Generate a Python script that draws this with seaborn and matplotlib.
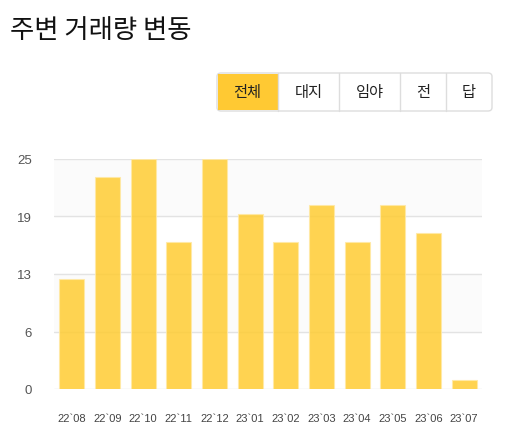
import matplotlib
matplotlib.use("Agg")
import matplotlib.pyplot as plt
import seaborn as sns
import pandas as pd
from matplotlib.patches import FancyBboxPatch, Rectangle

# data
months = ["22`08", "22`09", "22`10", "22`11", "22`12", "23`01",
          "23`02", "23`03", "23`04", "23`05", "23`06", "23`07"]
volumes = [12, 23, 25, 16, 25, 19, 16, 20, 16, 20, 17, 1]
tick_vals = [0, 6.25, 12.5, 18.75, 25]
tick_labels = ["0", "6", "13", "19", "25"]
buttons = ["전체", "대지", "임야", "전", "답"]

df = pd.DataFrame({"month": months, "volume": volumes})

sns.set_style("white")
plt.rcParams["font.family"] = ["Noto Sans CJK KR", "DejaVu Sans"]

W, H = 508, 439
fig = plt.figure(figsize=(W / 100, H / 100), dpi=100)

ax = fig.add_axes([54 / W, (H - 390) / H, 428 / W, 230 / H])
ax.set_facecolor("white")
for lo, hi in [(18.75, 25), (6.25, 12.5)]:
    ax.axhspan(lo, hi, color="#fbfbfb", zorder=0)
for v in tick_vals:
    ax.axhline(v, color="#e3e3e3", lw=1, zorder=1)

sns.barplot(data=df, x="month", y="volume", color="#ffcc33", alpha=0.85,
            width=0.7, edgecolor="#ffe9a6", linewidth=0.8, saturation=1,
            ax=ax, zorder=2)

ax.set_ylim(0, 25)
ax.set_xlim(-0.5, len(months) - 0.5)
ax.set_yticks(tick_vals)
ax.set_yticklabels(tick_labels, fontsize=9.5, color="#555555",
                   family="Liberation Sans")
for t in ax.get_xticklabels():
    t.set_family("Liberation Sans")
ax.tick_params(axis="x", labelsize=8, colors="#444444", pad=17, length=0)
ax.tick_params(axis="y", length=0, pad=16)
ax.set_xlabel("")
ax.set_ylabel("")
for s in ax.spines.values():
    s.set_visible(False)

# title
fig.text(10 / W, 1 - 31 / H, "주변 거래량 변동", fontsize=19, color="#111111",
         va="center", ha="left")

# segmented buttons
x0, x1, y0, y1 = 217, 492, 74, 112
edges = [217, 278, 339, 400, 446, 492]
bg = FancyBboxPatch((x0 / W, 1 - y1 / H), (x1 - x0) / W, (y1 - y0) / H,
                    boxstyle="round,pad=0,rounding_size=0.008",
                    transform=fig.transFigure, facecolor="white",
                    edgecolor="#dddddd", lw=1)
fig.patches.append(bg)
fig.patches.append(Rectangle((218 / W, 1 - 111 / H), 60 / W, 36 / H,
                             transform=fig.transFigure, facecolor="#ffc933",
                             edgecolor="none"))
for e in edges[1:-1]:
    fig.add_artist(plt.Line2D([e / W, e / W], [1 - y1 / H, 1 - y0 / H],
                              transform=fig.transFigure, color="#dddddd", lw=1))
for i, lab in enumerate(buttons):
    cx = (edges[i] + edges[i + 1]) / 2
    fig.text(cx / W, 1 - 93 / H, lab, fontsize=11, color="#222222",
             ha="center", va="center")

fig.savefig("out.png", dpi=100)
